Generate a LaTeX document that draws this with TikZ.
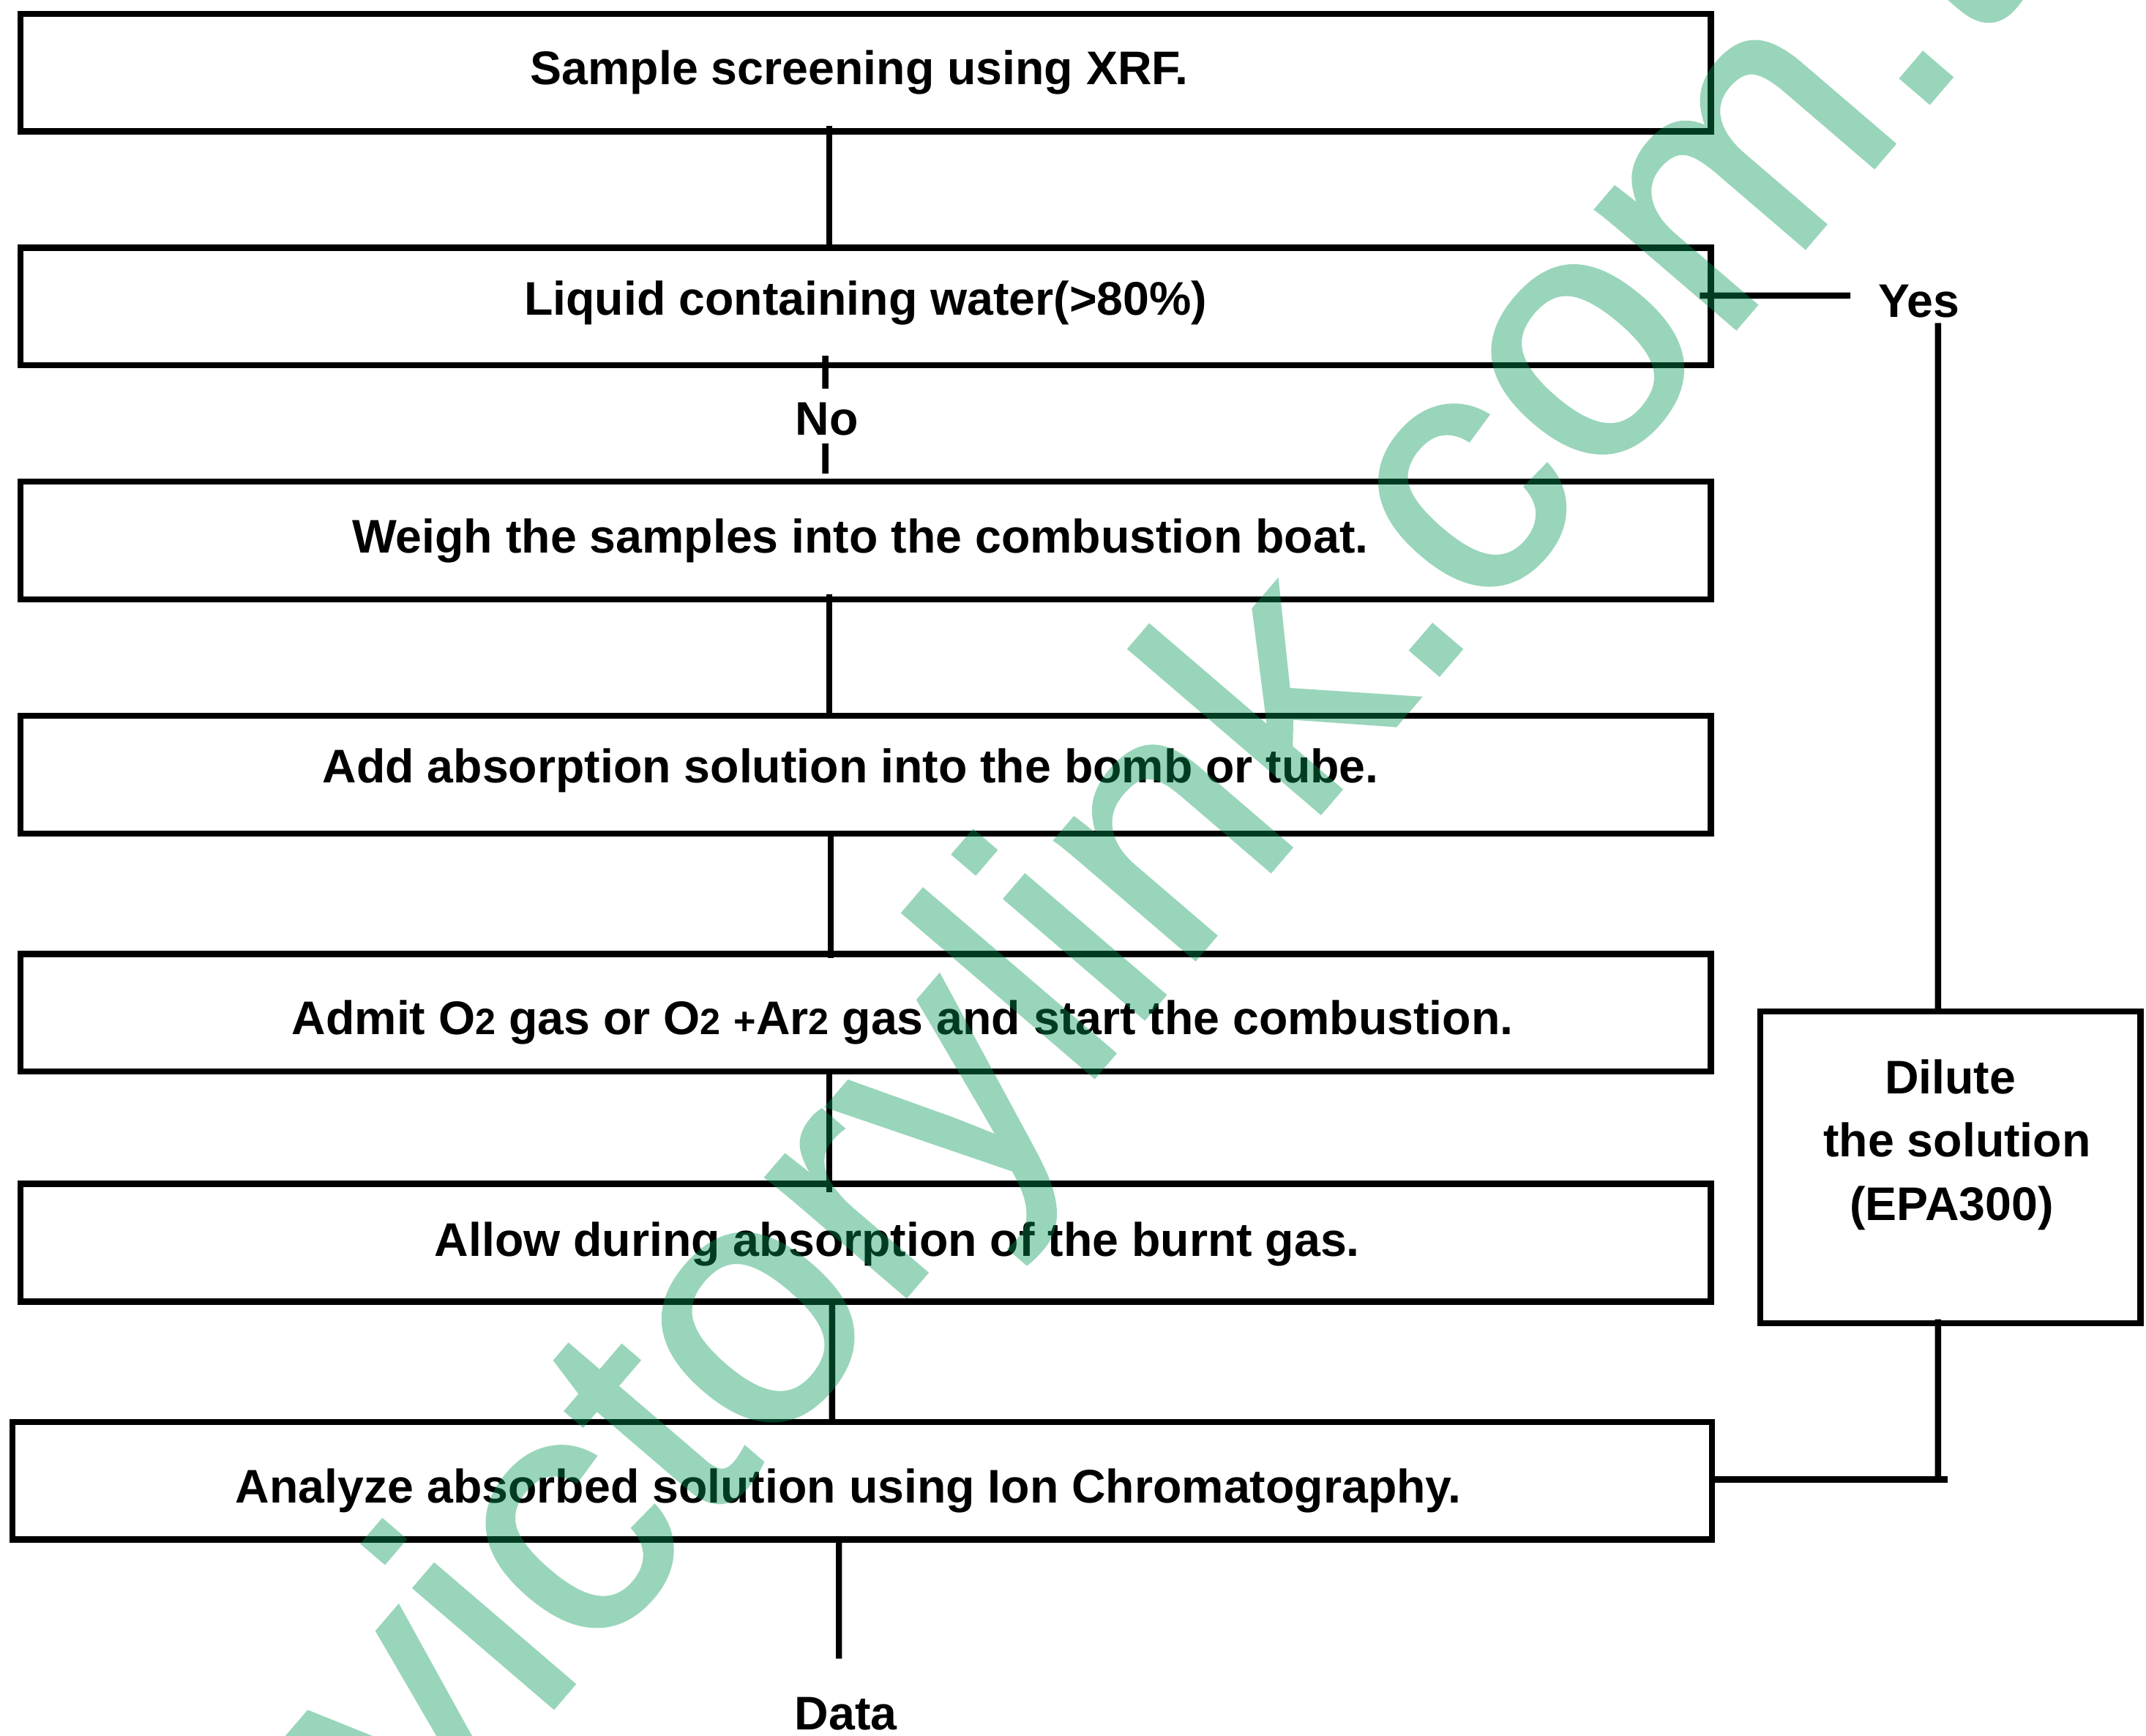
\documentclass[tikz,border=0pt]{standalone}
\usepackage{fontspec}
\setmainfont{Liberation Sans}
\newfontfamily\wmfont[FakeBold=1]{Liberation Sans}
\definecolor{wm}{RGB}{2,150,85}
\newcommand\boxtxt[3]{\makebox[0pt][c]{\hspace*{#1bp}\hspace*{#1bp}\raisebox{#2bp}[0pt][0pt]{#3}}}
\newcommand\subtwo{{\fontsize{27}{27}\selectfont 2}}
\tikzset{
  flowbox/.style={draw=black,fill=none,line width=4.5bp,inner sep=0pt,outer sep=0pt,minimum height=86bp,minimum width=1235bp,font=\fontsize{34.6}{34.6}\bfseries\selectfont},
  widebox/.style={flowbox,minimum width=1242bp},
  dilutebox/.style={flowbox,minimum width=278bp,minimum height=228bp},
  link/.style={draw=black,line width=4.5bp},
  tag/.style={inner sep=0pt,outer sep=0pt,font=\fontsize{34.6}{34.6}\bfseries\selectfont},
  watermark/.style={inner sep=0pt,outer sep=0pt,text=wm,font=\fontsize{255}{255}\wmfont\selectfont}
}
\begin{document}
\begin{tikzpicture}[x=1bp,y=-1bp]
\useasboundingbox (0,0) rectangle (1568,1268);
\clip (0,0) rectangle (1568,1268);
\fill[white] (0,0) rectangle (1568,1268);
\node[flowbox] (b1) at (632.5,53) {\boxtxt{-4.5}{-9}{Sample screening using XRF.}};
\node[flowbox] (b2) at (632.5,224) {\boxtxt{0}{-6}{Liquid containing water(>80\%)}};
\node[flowbox] (b3) at (632.5,395) {\boxtxt{-4}{-9}{Weigh the samples into the combustion boat.}};
\node[flowbox] (b4) at (632.5,566) {\boxtxt{-11}{-6}{Add absorption solution into the bomb or tube.}};
\node[flowbox] (b5) at (632.5,740) {\boxtxt{27}{-16}{Admit O\subtwo{} gas or O\subtwo{} {\fontsize{28}{28}\selectfont +}Ar\subtwo{} gas and start the combustion.}};
\node[flowbox] (b6) at (632.5,908) {\boxtxt{23}{-10}{Allow during absorption of the burnt gas.}};
\node[widebox] (b7) at (630,1082) {\boxtxt{-10}{-16}{Analyze absorbed solution using Ion Chromatography.}};
\node[dilutebox] (d) at (1425,853) {\boxtxt{0}{54}{Dilute}\boxtxt{5}{8}{the solution}\boxtxt{1}{-39}{(EPA300)}};
\node[tag] (no) at (604,306) {No};
\node[tag] (yes) at (1402,220) {Yes};
\node[tag,anchor=base] (data) at (618,1264) {Data};
\coordinate (yesend) at (1352,216);
\coordinate (dataend) at (613,1212);
\coordinate (joint) at (1423,1081);
\draw[link] ([xshift=-26.5bp,yshift=4bp]b1.south) -- ([xshift=-26.5bp]b2.north);
\draw[link] ([xshift=-29.5bp,yshift=7bp]b2.south) -- ([xshift=-1bp,yshift=10bp]no.north);
\draw[link] ([xshift=-1bp,yshift=-6bp]no.south) -- ([xshift=-29.5bp,yshift=6bp]b3.north);
\draw[link] ([xshift=-26.5bp,yshift=4bp]b3.south) -- ([xshift=-26.5bp]b4.north);
\draw[link] ([xshift=-25.5bp,yshift=-2bp]b4.south) -- ([xshift=-25.5bp,yshift=-3bp]b5.north);
\draw[link] ([xshift=-26.5bp]b5.south) -- ([xshift=-26.5bp,yshift=-6bp]b6.north);
\draw[link] ([xshift=-24.5bp]b6.south) -- ([xshift=-22bp]b7.north);
\draw[link] ([xshift=-17bp]b7.south) -- (dataend);
\draw[link] ([xshift=-8bp,yshift=8bp]b2.east) -- (yesend);
\draw[link] ([xshift=14bp,yshift=-4bp]yes.south) -- ([xshift=-9bp]d.north);
\draw[link] ([xshift=-9bp,yshift=3bp]d.south) -- ([xshift=-7bp]joint);
\draw[link] ([yshift=1bp]b7.east) -- (joint);
\begin{scope}[transparency group,opacity=.4]
\node[watermark,anchor=base west,rotate=49.4] (mark) at (311,1357) {victorylink.com.t};
\end{scope}
\end{tikzpicture}
\end{document}
